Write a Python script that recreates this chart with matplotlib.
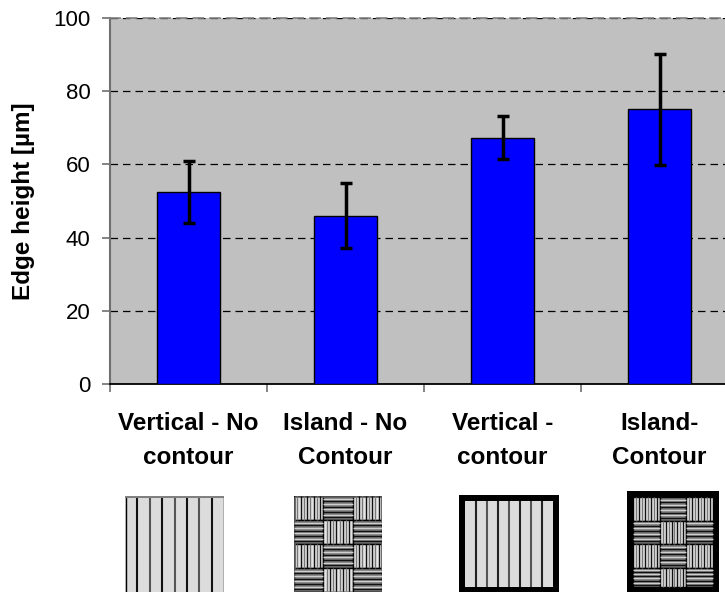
import matplotlib
matplotlib.use('Agg')
from matplotlib import pyplot as plt
from matplotlib.patches import Rectangle

plt.rcParams['font.family'] = ['Liberation Sans', 'DejaVu Sans']

# data
categories = ['Vertical - No\ncontour', 'Island - No\nContour', 'Vertical -\ncontour', 'Island-\nContour']
heights = [52.4, 46.0, 67.3, 75.1]
errors = [8.5, 8.8, 5.9, 15.2]
yticks = [0, 20, 40, 60, 80, 100]

W, H = 725, 592
fig = plt.figure(figsize=(W / 100, H / 100), dpi=100)

# main axes (runs past the right edge, like the original)
ax = fig.add_axes([110 / W, (H - 384) / H, 628 / W, 366 / H])
ax.set_facecolor('#c0c0c0')
xpos = list(range(len(categories)))
ax.bar(xpos, heights, width=0.4, color='#0000ff', edgecolor='black', linewidth=1, zorder=3)
ax.errorbar(xpos, heights, yerr=errors, fmt='none', ecolor='black', elinewidth=2.5,
            capsize=4, capthick=2.5, zorder=4)

ax.set_xlim(-0.5, len(categories) - 0.5)
ax.set_ylim(0, 100)
ax.set_yticks(yticks)
ax.yaxis.grid(True, color='black', linestyle=(0, (6, 4)), linewidth=0.9, zorder=1)
ax.set_axisbelow(True)
ax.set_xticks(xpos)
ax.set_xticklabels(categories, fontsize=17.5, fontweight='bold', linespacing=1.62)
ax.set_xticks([i - 0.5 for i in xpos] + [len(xpos) - 0.5], minor=True)
ax.tick_params(axis='x', which='major', length=0, pad=20)
ax.tick_params(axis='x', which='minor', length=6, color='#707070', width=1.2)
ax.tick_params(axis='y', length=6, color='#707070', width=1.2, labelsize=16, pad=8)
ax.set_ylabel('Edge height [µm]', fontsize=17.5, fontweight='bold', labelpad=13)

ax.spines['right'].set_visible(False)
ax.spines['top'].set_linestyle((0, (6, 4)))
ax.spines['top'].set_color('#808080')
ax.spines['top'].set_linewidth(1.2)
ax.spines['left'].set_color('#707070')
ax.spines['left'].set_linewidth(1.5)
ax.spines['bottom'].set_color('black')
ax.spines['bottom'].set_linewidth(1.3)


# ---- scan strategy icons below the labels ----
def icon_axes(x0, y0, w, h):
    a = fig.add_axes([x0 / W, (H - y0 - h) / H, w / W, h / H])
    a.set_xlim(0, w)
    a.set_ylim(h, 0)
    a.axis('off')
    return a


def stripes(a, x0, y0, w, h, n, vertical, bg, cols, lw):
    a.add_patch(Rectangle((x0, y0), w, h, facecolor=bg, edgecolor='none'))
    for k in range(1, n):
        c = cols[k % len(cols)]
        if vertical:
            xx = x0 + w * k / n
            a.plot([xx, xx], [y0, y0 + h], color=c, lw=lw, solid_capstyle='butt')
        else:
            yy = y0 + h * k / n
            a.plot([x0, x0 + w], [yy, yy], color=c, lw=lw, solid_capstyle='butt')


def vertical_icon(x0, y0, w, h, border):
    a = icon_axes(x0, y0, w, h)
    if border:
        b = 6
        a.add_patch(Rectangle((0, 0), w, h, facecolor='black', edgecolor='none'))
        stripes(a, b, b, w - 2 * b, h - 2 * b, 8, True, '#dcdcdc', ['#555555', '#222222'], 1.5)
    else:
        stripes(a, 0, 0, w, h, 8, True, '#dcdcdc', ['#555555', '#111111'], 1.5)
        a.plot([0.5, 0.5], [0, h], color='black', lw=1)
        a.plot([w - 0.5, w - 0.5], [0, h], color='black', lw=1)
        a.plot([0, w], [0.8, 0.8], color='#808080', lw=1.5)


def island_icon(x0, y0, w, h, border, cell_h):
    a = icon_axes(x0, y0, w, h)
    b = 6 if border else 0
    if border:
        a.add_patch(Rectangle((0, 0), w, h, facecolor='black', edgecolor='none'))
    iw = w - 2 * b
    cw = iw / 3
    r = 0
    while r * cell_h < h - 2 * b:
        ch = min(cell_h, h - 2 * b - r * cell_h)
        for c in range(3):
            cx = b + c * cw
            cy = b + r * cell_h
            if (r + c) % 2 == 0:
                stripes(a, cx, cy, cw, ch, 9, True, '#e4e4e4', ['#111111', '#777777'], 1.0)
            else:
                stripes(a, cx, cy, cw, ch, 9, False, '#7a7a7a', ['#111111', '#cfcfcf'], 1.0)
            a.add_patch(Rectangle((cx, cy), cw, ch, facecolor='none',
                                  edgecolor='black', linewidth=1.0))
        r += 1
    if not border:
        a.add_patch(Rectangle((0.5, 0.5), w - 1, h, facecolor='none',
                              edgecolor='#606060', linewidth=1.2))


vertical_icon(125, 496, 99, 99, False)
island_icon(294, 496, 88, 100, False, 24)
vertical_icon(459, 495, 100, 98, True)
island_icon(627, 491, 92, 102, True, 23.5)

fig.savefig('out.png', dpi=100)
